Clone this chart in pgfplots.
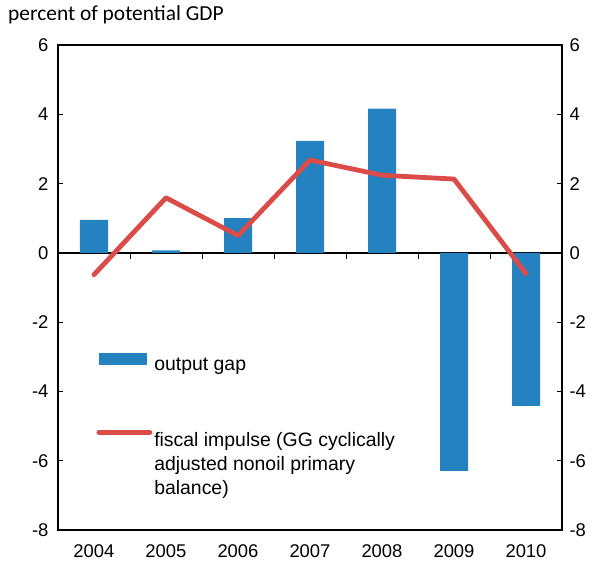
\documentclass[border=0pt]{standalone}
\usepackage{fontspec}
\setmainfont{Liberation Sans}
\newfontfamily\titlefont{Carlito}
\usepackage{pgfplots}
\pgfplotsset{compat=1.18}

\definecolor{gapblue}{RGB}{36,130,192}
\definecolor{impred}{RGB}{219,76,72}

\begin{document}
\begin{tikzpicture}
\pgfplotsset{
  base/.style={
    width=504bp, height=485bp, scale only axis,
    xmin=-0.5, xmax=6.5,
    ymin=-8, ymax=6,
    ytick={-8,-6,...,6},
    tick align=inside,
    major tick length=5bp,
    axis line style={line width=1.2bp},
    tick style={line width=1bp, black},
    tick label style={font=\fontsize{18.5}{22}\selectfont},
    /pgf/number format/assume math mode=true,
  }
}
\begin{axis}[
  base,
  name=main,
  ytick pos=left,
  yticklabel style={xshift=-6bp},
  xtick={0,...,6},
  xticklabels={2004,2005,2006,2007,2008,2009,2010},
  x tick style={draw=none},
  xticklabel style={yshift=-6bp},
  ybar, bar width=28bp,
  clip=false,
  legend cell align=left,
  legend style={at={(rel axis cs:0.07,0.37)}, anchor=north west,
    draw=none, fill=none,
    font=\fontsize{19.5}{24}\selectfont,
    row sep=56bp},
]
\draw[line width=1.8bp] (axis cs:-0.5,0) -- (axis cs:6.5,0);
\pgfplotsinvokeforeach{0.5,1.5,2.5,3.5,4.5,5.5}{
  \draw[line width=1bp] (axis cs:#1,0) -- ([yshift=-6bp]axis cs:#1,0);
}
\addplot[fill=gapblue, draw=none, bar shift=0pt,
  legend image code/.code={\fill[gapblue] (0bp,0bp) rectangle (48bp,12bp);}]
  coordinates {(0,0.95) (1,0.07) (2,1.0) (3,3.23) (4,4.16) (5,-6.29) (6,-4.42)};
\addlegendentry{output gap}
\addplot[sharp plot, impred, line width=4.8bp, line join=round, line cap=round,
  legend image code/.code={\draw[impred, line width=4.8bp, line cap=round] (0bp,8bp) -- (51bp,8bp);}]
  coordinates {(0,-0.63) (1,1.59) (2,0.5) (3,2.68) (4,2.24) (5,2.13) (6,-0.6)};
\addlegendentry{\parbox[t]{300bp}{\raggedright fiscal impulse (GG cyclically\\adjusted nonoil primary\\balance)}}
\end{axis}
\begin{axis}[
  base,
  ytick pos=right,
  yticklabel pos=right,
  yticklabel style={xshift=4bp},
  xtick=\empty,
  axis line style={draw=none},
]
\end{axis}
\node[anchor=west, font=\titlefont\fontsize{21.5}{24}\selectfont, inner sep=0pt]
  at ([xshift=-50bp,yshift=30bp]main.north west) {percent of potential GDP};
\path ([xshift=-58bp,yshift=-41bp]main.south west) rectangle ([xshift=41bp,yshift=45bp]main.north east);
\end{tikzpicture}
\end{document}
